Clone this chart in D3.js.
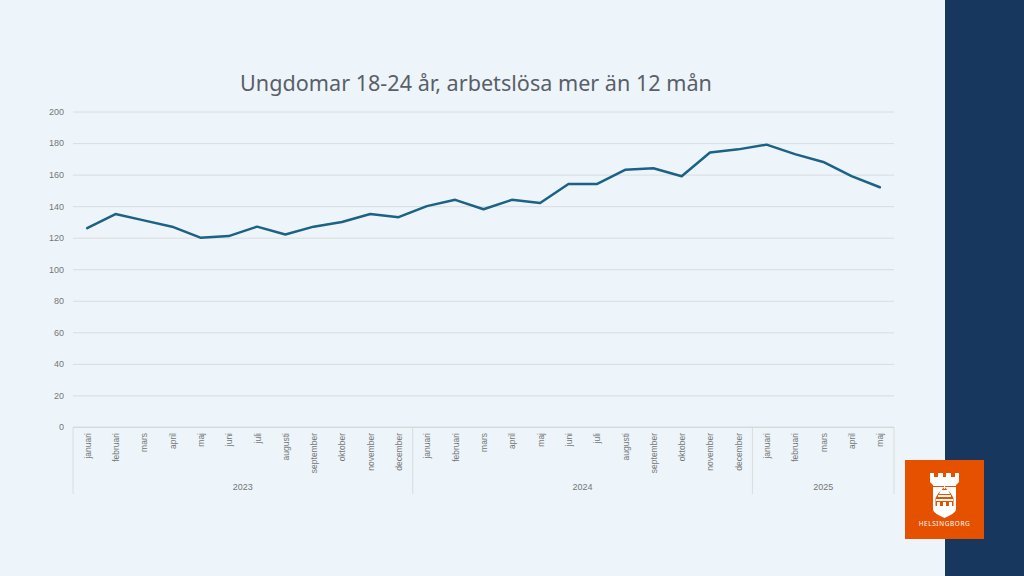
<!DOCTYPE html>
<html>
<head>
<meta charset="utf-8">
<script src="https://d3js.org/d3.v7.min.js"></script>
<style>
  html, body { margin: 0; padding: 0; background: #edf5fb; overflow: hidden; }
  svg { display: block; }
  text { font-family: "Noto Sans", sans-serif; }
</style>
</head>
<body>
<svg width="1024" height="576"></svg>
<script>
'use strict'

const months = ['januari', 'februari', 'mars', 'april', 'maj', 'juni', 'juli', 'augusti', 'september', 'oktober', 'november', 'december']
const years = ['2023', '2024', '2025']
const monthsPerYear = [12, 12, 5]
const values = [126, 135, 131, 127, 120, 121, 127, 122, 127, 130, 135, 133,
  140, 144, 138, 144, 142, 154, 154, 163, 164, 159, 174, 176,
  179, 173, 168, 159, 152]
const yTicks = [0, 20, 40, 60, 80, 100, 120, 140, 160, 180, 200]
const title = 'Ungdomar 18-24 år, arbetslösa mer än 12 mån'

const svg = d3.select('svg')

// one row per point, year + month index
const rows = []
years.forEach((year, i) => {
  d3.range(monthsPerYear[i]).forEach((m) => rows.push({ year, month: months[m], key: `${year}-${m}` }))
})
rows.forEach((r, i) => { r.value = values[i] })

const x = d3.scaleBand().domain(rows.map((d) => d.key)).range([73, 894])
const y = d3.scaleLinear().domain([0, 200]).range([427, 111.5])

// right side band
svg.append('rect').attr('x', 945).attr('y', 0).attr('width', 79).attr('height', 576).attr('fill', '#17375e')

svg.append('text')
  .attr('x', 476).attr('y', 91)
  .attr('text-anchor', 'middle')
  .attr('font-size', 21.6)
  .attr('fill', '#595f69')
  .text(title)

// gridlines and y labels
const yAxis = svg.append('g')
  .attr('transform', 'translate(73,0)')
  .call(d3.axisLeft(y).tickValues(yTicks).tickSize(0).tickPadding(9))
yAxis.select('.domain').remove()
yAxis.selectAll('text').attr('font-size', 9).attr('fill', '#757575').style('font-family', '"Liberation Sans", sans-serif')
yAxis.selectAll('.tick').append('line')
  .attr('x2', 821)
  .attr('stroke', '#d6d6d6')
  .attr('stroke-width', 0.8)

// month labels
const xAxis = svg.append('g')
  .attr('transform', 'translate(0,427)')
  .call(d3.axisBottom(x).tickSize(0).tickFormat((k) => rows.find((r) => r.key === k).month))
xAxis.select('.domain').remove()
xAxis.selectAll('text')
  .attr('font-size', 8.5)
  .attr('fill', '#757575')
  .style('font-family', '"Liberation Sans", sans-serif')
  .attr('text-anchor', 'end')
  .attr('transform', 'rotate(-90)')
  .attr('x', -6)
  .attr('y', 3.5)
  .attr('dy', 0)

// year brackets
const yearStart = years.map((yr) => rows.find((r) => r.year === yr).key)
const yearEnd = years.map((yr) => rows.filter((r) => r.year === yr).pop().key)
const axisLines = svg.append('g').attr('stroke', '#d6d6d6').attr('stroke-width', 0.8)
axisLines.append('line').attr('x1', x.range()[0]).attr('x2', x.range()[1]).attr('y1', y(0)).attr('y2', y(0))
axisLines.append('line').attr('x1', x(yearStart[0])).attr('x2', x(yearStart[0])).attr('y1', y(0)).attr('y2', 494)
axisLines.selectAll('line.sep').data(yearEnd)
  .enter()
  .append('line')
  .classed('sep', true)
  .attr('x1', (k) => x(k) + x.bandwidth())
  .attr('x2', (k) => x(k) + x.bandwidth())
  .attr('y1', y(0))
  .attr('y2', 494)

svg.selectAll('text.year').data(years)
  .enter()
  .append('text')
  .classed('year', true)
  .attr('x', (d, i) => (x(yearStart[i]) + x(yearEnd[i]) + x.bandwidth()) / 2)
  .attr('y', 490)
  .attr('text-anchor', 'middle')
  .attr('font-size', 9)
  .attr('fill', '#757575')
  .style('font-family', '"Liberation Sans", sans-serif')
  .text((d) => d)

// the series
const line = d3.line().x((d) => x(d.key) + x.bandwidth() / 2).y((d) => y(d.value))
svg.append('path')
  .datum(rows)
  .attr('d', line)
  .attr('fill', 'none')
  .attr('stroke', '#1b6285')
  .attr('stroke-width', 2.5)
  .attr('stroke-linejoin', 'round')
  .attr('stroke-linecap', 'round')

// Helsingborg logo
const logo = svg.append('g').attr('transform', 'translate(905,460)')
logo.append('rect').attr('width', 79).attr('height', 79).attr('fill', '#e65100')
logo.append('path')
  .attr('fill', '#fff')
  .attr('d', 'M25 13h4v4h4v-4h5v4h3v-4h5v4h4v-4h4v9l-3 3v24c0 4-6 6-11.500 9-5.500-3-11.500-5-11.500-9V25l-3-3z')
logo.append('path')
  .attr('fill', '#e65100')
  .attr('d', 'M28 26h23v1H28zM39.500 27l6 6 3 5v8h-18v-8l3-5z')
logo.append('path')
  .attr('fill', '#fff')
  .attr('d', 'M39 26h1v3h-1zM36 30h7l2 4h-11zM33 35h13v2H33zM31 39h17v2H31zM32 42h3v5h-3zM38 42h3v5h-3zM44 42h3v5h-3z')
logo.append('text')
  .attr('x', 39.500).attr('y', 66)
  .attr('text-anchor', 'middle')
  .attr('font-size', 6.4)
  .attr('letter-spacing', 0.65)
  .attr('fill', '#fff')
  .text('HELSINGBORG')
</script>
</body>
</html>
